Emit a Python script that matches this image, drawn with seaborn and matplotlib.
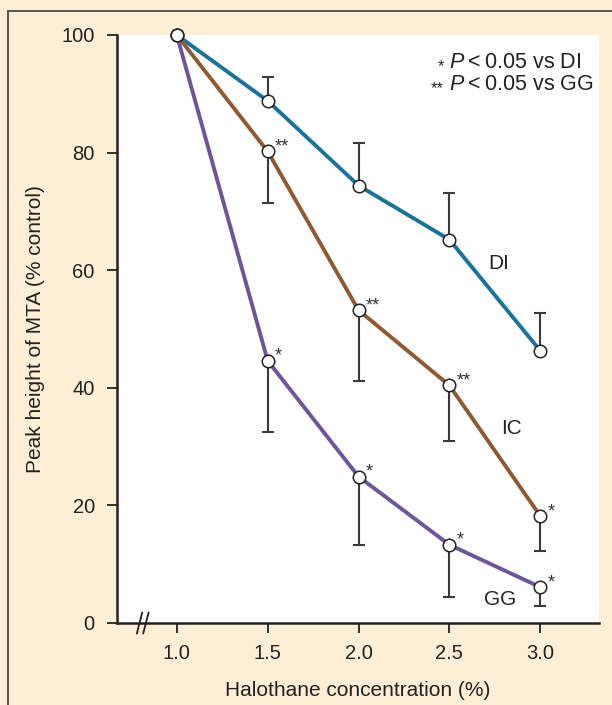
import matplotlib
matplotlib.use("Agg")
import matplotlib.pyplot as plt
import seaborn as sns
import pandas as pd
from matplotlib.patches import Rectangle
from matplotlib.lines import Line2D

# ---- data ----
conc = [1.0, 1.5, 2.0, 2.5, 3.0]
di = [100, 88.8, 74.4, 65.2, 46.3]
di_err_hi = [100, 92.8, 81.6, 73.1, 52.8]
ic = [100, 80.2, 53.2, 40.4, 18.2]
ic_err_lo = [100, 71.4, 41.1, 31.0, 12.3]
gg = [100, 44.6, 24.9, 13.3, 6.1]
gg_err_lo = [100, 32.5, 13.3, 4.4, 2.9]
ic_sig = ["", "**", "**", "**", "*"]
gg_sig = ["", "*", "*", "*", "*"]
key_marks = ["*", "**"]
key_texts = ["$\\it{P}$\u2009<\u20090.05 vs DI", "$\\it{P}$\u2009<\u20090.05 vs GG"]
xticks = [1.0, 1.5, 2.0, 2.5, 3.0]
yticks = [0, 20, 40, 60, 80, 100]

colors = {"DI": "#1B7299", "IC": "#8E5A34", "GG": "#6E5499"}

df = pd.DataFrame({
    "x": conc * 3,
    "y": di + ic + gg,
    "group": ["DI"] * 5 + ["IC"] * 5 + ["GG"] * 5,
})

sns.set_theme(style="ticks")
plt.rcParams["font.family"] = ["Liberation Sans", "DejaVu Sans"]
plt.rcParams["mathtext.fontset"] = "custom"
plt.rcParams["mathtext.rm"] = "Liberation Sans"
plt.rcParams["mathtext.it"] = "Liberation Sans:italic"

bg = "#FDEFD7"
fig = plt.figure(figsize=(6.12, 7.05), dpi=100, facecolor=bg)
ax = fig.add_axes([117 / 612, 1 - 623 / 705, (599 - 117) / 612, (623 - 35) / 705])
ax.set_facecolor("white")

# outer frame
fig.patches.append(Rectangle((8 / 612, -0.05), 1.2, 1 - 11 / 705 + 0.05,
                             transform=fig.transFigure, fill=False,
                             edgecolor="#555555", linewidth=1.4, zorder=0))

# error bars (one-sided, single cap)
errc = "#3a3a3a"
def one_sided(xs, ys, ends):
    for xv, yv, e in zip(xs, ys, ends):
        ax.plot([xv, xv], [yv, e], color=errc, linewidth=1.5, zorder=2,
                solid_capstyle="butt", clip_on=False)
        ax.plot([xv], [e], marker="_", markersize=9, markeredgewidth=1.5,
                color=errc, zorder=2, clip_on=False)

one_sided(conc[1:], di[1:], di_err_hi[1:])
one_sided(conc[1:], ic[1:], ic_err_lo[1:])
one_sided(conc[1:], gg[1:], gg_err_lo[1:])

sns.lineplot(data=df, x="x", y="y", hue="group", palette=colors, ax=ax,
             linewidth=2.8, marker="o", markersize=9, markerfacecolor="white",
             markeredgecolor="#222222", markeredgewidth=1.1, legend=False,
             zorder=3, clip_on=False)

# significance marks
for xv, yv, s in zip(conc, ic, ic_sig):
    if s:
        ax.annotate(s, (xv, yv), xytext=(5, -3), textcoords="offset points",
                    fontsize=13, color="#333333", ha="left", va="bottom")
for xv, yv, s in zip(conc, gg, gg_sig):
    if s:
        ax.annotate(s, (xv, yv), xytext=(5, -3), textcoords="offset points",
                    fontsize=13, color="#333333", ha="left", va="bottom")

# series labels
ax.text(2.77, 61.2, "DI", fontsize=15, color="#222222", ha="center", va="center")
ax.text(2.84, 33.0, "IC", fontsize=15, color="#222222", ha="center", va="center")
ax.text(2.78, 4.0, "GG", fontsize=15, color="#222222", ha="center", va="center")

# key
kx_px = 449 - 117
kx = kx_px / (599 - 117)
for i, (m, t) in enumerate(zip(key_marks, key_texts)):
    yk = (623 - (63 + 22 * i)) / (623 - 35)
    ax.text(kx - 0.01, yk - 0.006, m, transform=ax.transAxes, ha="right",
            va="center", fontsize=12, color="#222222")
    ax.text(kx, yk, t, transform=ax.transAxes, ha="left", va="center",
            fontsize=15.5, color="#222222")

ax.set_xlim(0.671, 3.323)
ax.set_ylim(0, 100)
ax.set_xticks(xticks)
ax.set_xticklabels([f"{v:.1f}" for v in xticks])
ax.set_yticks(yticks)
ax.tick_params(axis="both", direction="out", length=7, width=1.3,
               color="#222222", labelsize=14.5, labelcolor="#222222")
ax.tick_params(axis="y", pad=9)
ax.tick_params(axis="x", pad=8)
sns.despine(ax=ax)
for sp in ("left", "bottom"):
    ax.spines[sp].set_linewidth(1.8)
    ax.spines[sp].set_color("#222222")

ax.set_xlabel("Halothane concentration (%)", fontsize=15, color="#222222", labelpad=13)
ax.set_ylabel("Peak height of MTA (% control)", fontsize=15, color="#222222", labelpad=12)

# axis break marks
for dx in (0.0, 0.035):
    ax.add_line(Line2D([0.78 + dx, 0.81 + dx], [-1.8, 1.8], color="#222222",
                       linewidth=1.3, clip_on=False))

fig.savefig("out.png", dpi=100, facecolor=bg)
